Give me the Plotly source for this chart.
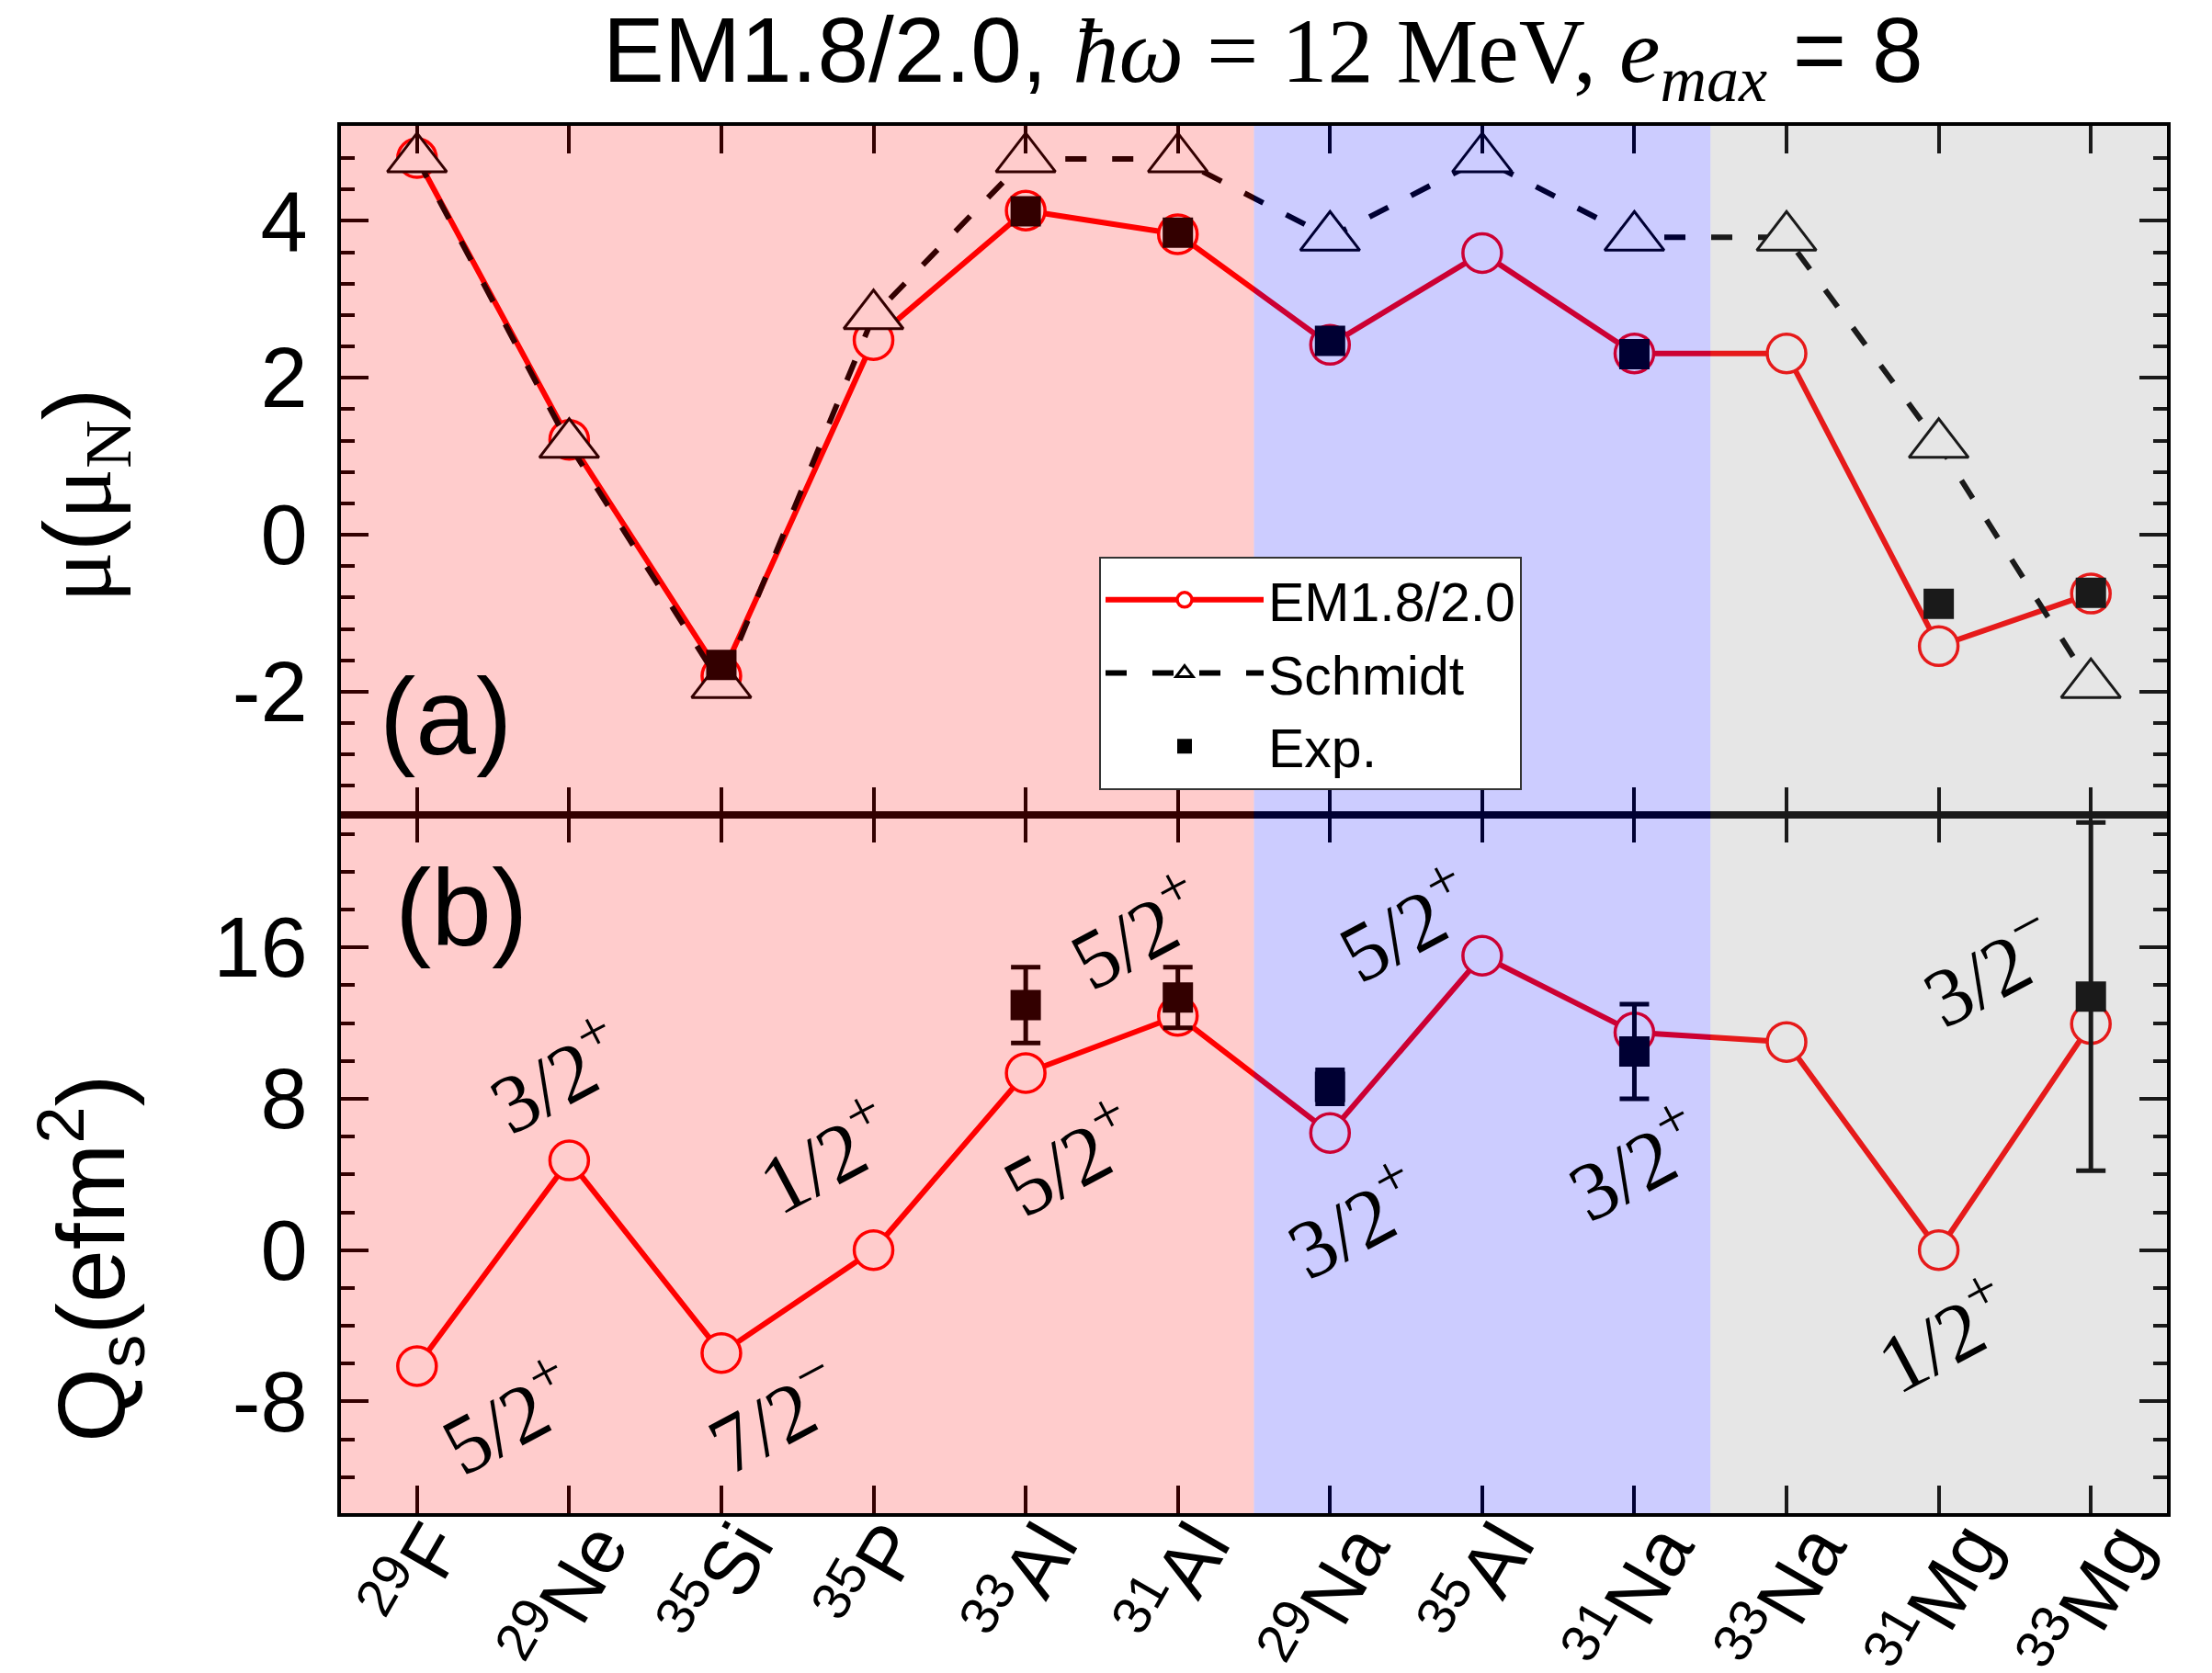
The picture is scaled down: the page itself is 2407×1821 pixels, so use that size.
import plotly.graph_objects as go
from plotly.subplots import make_subplots

# nuclei on the x axis
nuclei = ["29F", "29Ne", "35Si", "35P", "33Al", "31Al", "29Na", "35Al", "31Na", "33Na", "31Mg", "33Mg"]
mass = ["29", "29", "35", "35", "33", "31", "29", "35", "31", "33", "31", "33"]
element = ["F", "Ne", "Si", "P", "Al", "Al", "Na", "Al", "Na", "Na", "Mg", "Mg"]
tick_text = [f"<sup>{a}</sup>{e}" for a, e in zip(mass, element)]

# (a) magnetic moments
mu_em = [4.80, 1.21, -1.80, 2.48, 4.13, 3.83, 2.42, 3.59, 2.31, 2.31, -1.42, -0.75]
mu_schmidt = [4.79, 1.15, -1.91, 2.79, 4.79, 4.79, 3.79, 4.79, 3.79, 3.79, 1.15, -1.91]
mu_exp_nuc = ["35Si", "33Al", "31Al", "29Na", "31Na", "31Mg", "33Mg"]
mu_exp = [-1.66, 4.12, 3.85, 2.47, 2.30, -0.88, -0.74]
mu_ticks = [-2, 0, 2, 4]

# (b) quadrupole moments
q_em = [-6.13, 4.74, -5.44, 0.0, 9.36, 12.38, 6.19, 15.56, 11.5, 11.0, 0.0, 11.95]
q_exp_nuc = ["33Al", "31Al", "29Na", "31Na", "33Mg"]
q_exp = [12.95, 13.35, 8.63, 10.5, 13.4]
q_err = [2.0, 1.6, 0.9, 2.5, 9.2]
q_ticks = [-8, 0, 8, 16]

# spin-parity labels
state_nuc = ["29F", "29Ne", "35Si", "35P", "33Al", "31Al", "29Na", "35Al", "31Na", "31Mg", "33Mg"]
state_txt = ["5/2<sup>+</sup>", "3/2<sup>+</sup>", "7/2<sup>\u2212</sup>", "1/2<sup>+</sup>",
             "5/2<sup>+</sup>", "5/2<sup>+</sup>", "3/2<sup>+</sup>", "5/2<sup>+</sup>",
             "3/2<sup>+</sup>", "1/2<sup>+</sup>", "3/2<sup>\u2212</sup>"]
state_shift = [(99, -53), (-15, 95), (58, -66), (-53, 105), (47, -91), (-45, 94),
               (25, -93), (-84, 37), (0, -140), (5, -90), (-111, 62)]

# shaded groups: first nucleus of each group and colour
group_start = ["29F", "29Na", "33Na"]
group_color = ["rgba(255,0,0,0.2)", "rgba(0,0,255,0.2)", "rgba(128,128,128,0.2)"]

SANS = "Liberation Sans"
SERIF = "Liberation Serif"
PAGE = 8  # page margin of the html body

fig = make_subplots(rows=2, cols=1, shared_xaxes=True, vertical_spacing=0)

# panel (a)
fig.add_trace(go.Scatter(
    x=nuclei, y=mu_em, name="EM1.8/2.0", mode="lines+markers",
    line=dict(color="red", width=6),
    marker=dict(symbol="circle", size=42, color="white", line=dict(color="red", width=3.5)),
), row=1, col=1)
fig.add_trace(go.Scatter(
    x=nuclei, y=mu_schmidt, name="Schmidt", mode="lines+markers",
    line=dict(color="black", width=6, dash="23px,28px"),
    marker=dict(symbol="triangle-up", size=56, color="white", line=dict(color="black", width=3)),
), row=1, col=1)
fig.add_trace(go.Scatter(
    x=mu_exp_nuc, y=mu_exp, name="Exp.", mode="markers",
    marker=dict(symbol="square", size=33, color="black"),
), row=1, col=1)

# panel (b)
fig.add_trace(go.Scatter(
    x=nuclei, y=q_em, mode="lines+markers", showlegend=False,
    line=dict(color="red", width=6),
    marker=dict(symbol="circle", size=42, color="white", line=dict(color="red", width=3.5)),
), row=2, col=1)
fig.add_trace(go.Scatter(
    x=q_exp_nuc, y=q_exp, mode="markers", showlegend=False,
    marker=dict(symbol="square", size=33, color="black"),
    error_y=dict(type="data", array=q_err, thickness=5, width=16, color="black"),
), row=2, col=1)

axis_style = dict(
    showline=True, linecolor="black", linewidth=4, mirror="ticks",
    ticks="inside", ticklen=30, tickwidth=4, tickcolor="black",
    showgrid=False, zeroline=False, automargin=False,
)

split = (1647 - 887) / 1510

fig.update_xaxes(axis_style, type="category", categoryorder="array", categoryarray=nuclei,
                 range=[-0.5, len(nuclei) - 0.5], showticklabels=False)

fig.update_yaxes(axis_style, range=[-3.57, 5.21], tickvals=mu_ticks,
                 ticktext=[str(v) for v in mu_ticks],
                 tickfont=dict(family=SANS, size=92, color="black"), ticklabelstandoff=14,
                 minor=dict(ticks="inside", ticklen=15, tickwidth=4, tickcolor="black",
                            dtick=0.4, tick0=0),
                 domain=[split, 1], row=1, col=1)
fig.update_yaxes(axis_style, range=[-13.9, 23.0], tickvals=q_ticks,
                 ticktext=[str(v) for v in q_ticks],
                 tickfont=dict(family=SANS, size=92, color="black"), ticklabelstandoff=14,
                 minor=dict(ticks="inside", ticklen=15, tickwidth=4, tickcolor="black",
                            dtick=2, tick0=0),
                 domain=[0, split], row=2, col=1)

# translucent group shading drawn over everything in the plot area
n = len(nuclei)
starts = [nuclei.index(s) for s in group_start] + [n]
for i, col in enumerate(group_color):
    fig.add_shape(type="rect", xref="x domain", yref="paper",
                  x0=starts[i] / n, x1=starts[i + 1] / n, y0=0, y1=1,
                  fillcolor=col, line=dict(width=0), layer="above")


def px_x(p):
    return (p - 371) / 1987


def px_y(p):
    return (1647 - p) / 1510


def label(px, py, text, size, family=SANS, angle=0):
    return dict(x=px_x(px), y=px_y(py), xref="paper", yref="paper", text=text,
                showarrow=False, textangle=angle, xanchor="center", yanchor="middle",
                font=dict(family=family, size=size, color="black"))


annotations = []
# rotated nucleus names under the bottom axis
for nuc, txt in zip(nuclei, tick_text):
    annotations.append(dict(
        x=nuc, y=px_y(1634), xref="x2", yref="paper", text=txt, showarrow=False,
        textangle=-60, xanchor="center", yanchor="top", xshift=-6,
        font=dict(family=SANS, size=83, color="black"),
    ))

for nuc, txt, (dx, dy) in zip(state_nuc, state_txt, state_shift):
    annotations.append(dict(
        x=nuc, y=q_em[nuclei.index(nuc)], xref="x2", yref="y2", text=txt,
        showarrow=False, xshift=dx, yshift=dy, textangle=-28,
        xanchor="center", yanchor="middle",
        font=dict(family=SERIF, size=90, color="black"),
    ))

annotations += [
    label(485, 780, "(a)", 118),
    label(502, 988, "(b)", 118),
    label(92, 540,
          f'<span style="font-family:{SERIF}">\u03bc</span>(<span style="font-family:{SERIF}">\u03bc</span>'
          f'<sub><span style="font-family:{SERIF}">N</span></sub>)', 104, angle=-90),
    label(98, 1370, "Q<sub>s</sub>(efm<sup>2</sup>)", 104, angle=-90),
    label(1374, 61,
          f'EM1.8/2.0, <span style="font-family:{SERIF}"><i>\u0127\u03c9</i> = 12 MeV, '
          f'<i>e</i><sub><i>max</i></sub></span> = 8', 100),
]

fig.update_layout(
    width=2407, height=1821,
    margin=dict(l=371 - PAGE, r=49 + PAGE, t=137 - PAGE, b=174 + PAGE, autoexpand=False),
    paper_bgcolor="white", plot_bgcolor="white",
    annotations=annotations,
    showlegend=True,
    legend=dict(x=px_x(1196), y=px_y(606), xanchor="left", yanchor="top",
                bgcolor="white", bordercolor="#333", borderwidth=2,
                font=dict(family=SANS, size=59, color="black"),
                itemwidth=172, tracegroupgap=0),
)

fig.write_html("out.html")
